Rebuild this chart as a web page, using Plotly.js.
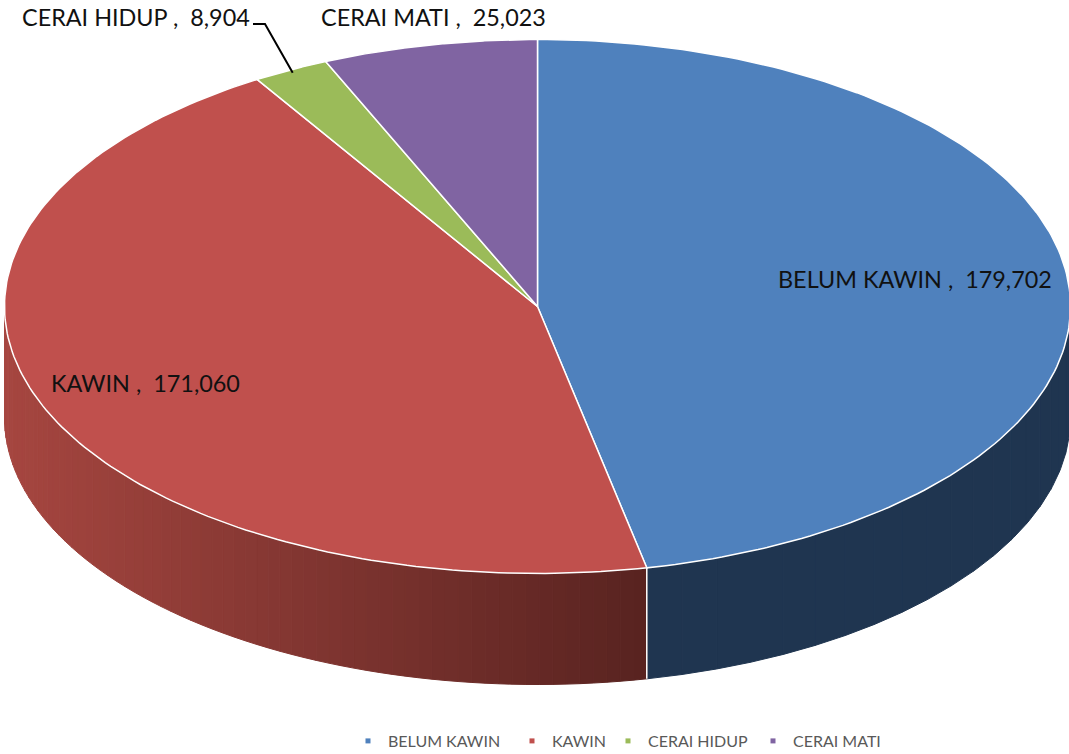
<!DOCTYPE html>
<html><head><meta charset="utf-8">
<script src="https://cdn.plot.ly/plotly-3.0.0.min.js"></script>
<style>html,body{margin:0;padding:0;background:#fff}#c{width:1069px;height:754px}</style>
</head><body><div id="c"></div>
<script>
const categories = ["BELUM KAWIN", "KAWIN", "CERAI HIDUP", "CERAI MATI"];
const values = [179702, 171060, 8904, 25023];
const colors = ["#4F81BD", "#C0504D", "#9BBB59", "#8064A2"];
const labelX = [776, 49, 20, 319];
const labelY = [279, 383, 17, 17];
const legendTextX = [389, 553, 649, 794];

const W = 1069, H = 754, cx = 537.5, cy = 306.5, rx = 533, ry = 267, depth = 111;
const total = values.reduce((a, b) => a + b, 0);
const px = a => cx + rx * Math.sin(a);
const py = (a, d = 0) => cy - ry * Math.cos(a) + d;
const rad = f => f * 2 * Math.PI;

const traces = [];
let cum = 0;
const spans = values.map(v => { const s = [cum / total, (cum + v) / total]; cum += v; return s; });

function arc(a0, a1, d, n) {
  const xs = [], ys = [];
  for (let i = 0; i <= n; i++) { const a = a0 + (a1 - a0) * i / n; xs.push(px(a)); ys.push(py(a, d)); }
  return [xs, ys];
}
function poly(xs, ys, fill, line, width) {
  traces.push({ type: "scatter", mode: "lines", x: xs, y: ys, fill: "toself", fillcolor: fill,
    line: { color: line, width: width }, hoverinfo: "skip", showlegend: false });
}
function side(a0, a1, col) {
  const [tx, ty] = arc(a0, a1, 0, 6), [bx, by] = arc(a1, a0, depth, 6);
  poly(tx.concat(bx, [tx[0]]), ty.concat(by, [ty[0]]), col, col, 1);
}

// side wall: blue part (right edge to first boundary)
const end0 = rad(spans[0][1]);
const STR = 70;
for (let i = 0; i < 20; i++) {
  const a0 = Math.PI / 2 + (end0 - Math.PI / 2) * i / 20;
  const a1 = Math.PI / 2 + (end0 - Math.PI / 2) * (i + 1) / 20;
  side(a0, a1, "#1F3550");
}
// side wall: red part, shaded from left to right
const c0 = [166, 70, 64], c1 = [88, 35, 32];
for (let i = 0; i < STR; i++) {
  const a0 = end0 + (1.5 * Math.PI - end0) * i / STR;
  const a1 = end0 + (1.5 * Math.PI - end0) * (i + 1) / STR;
  const t = Math.min(1, Math.max(0, (px((a0 + a1) / 2) - 4) / 643));
  const c = c0.map((v, k) => Math.round(v + (c1[k] - v) * t));
  side(a0, a1, `rgb(${c.join(",")})`);
}
// white seam on the wall
traces.push({ type: "scatter", mode: "lines", x: [px(end0), px(end0)], y: [py(end0), py(end0, depth)],
  line: { color: "#fff", width: 1.5 }, hoverinfo: "skip", showlegend: false });

// top face slices
spans.forEach((s, i) => {
  const [ax, ay] = arc(rad(s[0]), rad(s[1]), 0, 160);
  poly([cx].concat(ax, [cx]), [cy].concat(ay, [cy]), colors[i], "#fff", 1.5);
});

// leader line for the thin slice
const mid = rad((spans[2][0] + spans[2][1]) / 2);
traces.push({ type: "scatter", mode: "lines", x: [253, 265, px(mid) + 2], y: [24, 24, py(mid) + 3],
  line: { color: "#000", width: 2 }, hoverinfo: "skip", showlegend: false });

// legend entries: each in its own legend box so the spacing can follow the reference
const legendKeys = ["legend", "legend2", "legend3", "legend4"];
categories.forEach((c, i) => traces.push({ type: "scatter", mode: "markers", name: c, x: [null], y: [null],
  legend: legendKeys[i], marker: { color: colors[i], size: 5, symbol: "square" }, showlegend: true, hoverinfo: "skip" }));

const annotations = categories.map((c, i) => ({
  xref: "x", yref: "y", x: labelX[i], y: labelY[i], xanchor: "left", yanchor: "middle", showarrow: false,
  text: c + " ,  " + values[i].toLocaleString("en-US"),
  font: { family: "Lato, sans-serif", size: 23.4, color: "#111" }
}));

const layout = {
  width: W, height: H, margin: { l: 0, r: 0, t: 0, b: 0, autoexpand: false },
  paper_bgcolor: "#fff", plot_bgcolor: "#fff",
  xaxis: { range: [0, W], visible: false, fixedrange: true },
  yaxis: { range: [H, 0], visible: false, fixedrange: true },
  annotations, showlegend: true
};
legendKeys.forEach((k, i) => {
  layout[k] = { orientation: "h", x: (legendTextX[i] - 41) / W, xanchor: "left",
    y: 1 - 741 / H, yanchor: "middle", itemwidth: 30, bgcolor: "rgba(0,0,0,0)",
    font: { family: "Lato, sans-serif", size: 16, color: "#595959" } };
});

Plotly.newPlot("c", traces, layout, { displayModeBar: false, staticPlot: true });
</script></body></html>
